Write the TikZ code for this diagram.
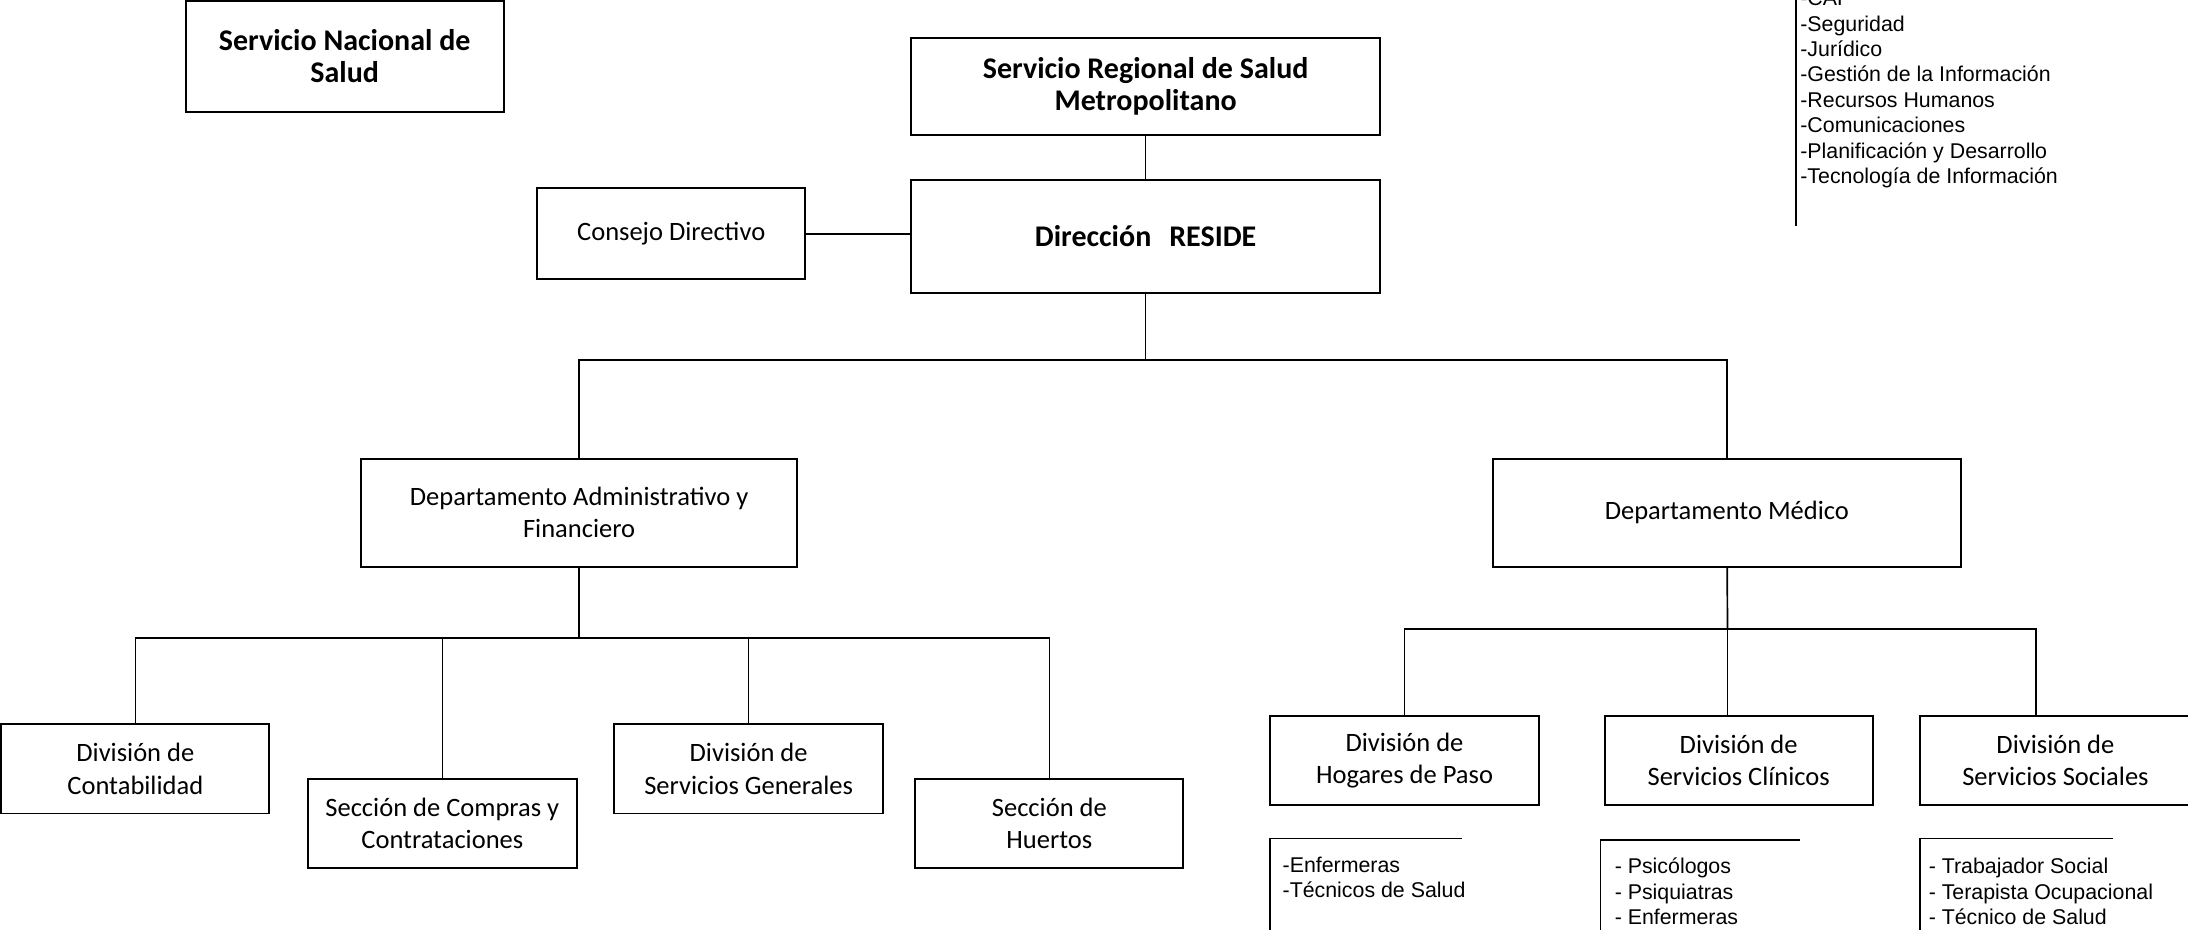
\documentclass[tikz,border=0pt]{standalone}
\usepackage{fontspec}
\setmainfont{Carlito}
\newfontfamily\listfont{Liberation Sans}
\tikzstyle{block} = [draw, fill=white, rectangle, line width=1.4pt, inner sep=0pt,
    align=center, font=\fontsize{19}{23}\selectfont,
    minimum height=64pt, minimum width=192pt]
\tikzstyle{title} = [block, font=\fontsize{21.5}{23}\selectfont\bfseries]
\tikzstyle{staff} = [align=left, inner sep=0pt, anchor=base west,
    font=\listfont\fontsize{15.3}{18.2}\selectfont]
\tikzstyle{link} = [line width=1.2pt]

\begin{document}
\begin{tikzpicture}[x=1pt, y=1pt]
    \useasboundingbox (0,0) rectangle (1568,666);
    % We start by placing the blocks of the upper levels
    \node [title, minimum width=228pt, minimum height=79pt] (sns) at (247,625.5) {Servicio Nacional de\\Salud};
    \node [title, minimum width=336pt, minimum height=70pt] (srsm) at (821,604) {Servicio Regional de Salud\\Metropolitano};
    \node [title, minimum width=336pt, minimum height=81pt, below of=srsm, node distance=107.5pt] (dir) {Direcci\'on\hspace{0.6em}RESIDE};
    \node [block, minimum height=65pt, left of=dir, node distance=340pt, yshift=2pt] (consejo) {Consejo Directivo};
    \node [block, minimum width=312pt, minimum height=77pt] (daf) at (415,298.5) {Departamento Administrativo y\\Financiero};
    \node [block, minimum width=335pt, minimum height=77pt, right of=daf, node distance=822.5pt] (dm) {Departamento M\'edico};

    % divisions and sections
    \node [block] (contab) at (97,115) {Divisi\'on de\\Contabilidad};
    \node [block, minimum width=193pt] (compras) at (317,76) {Secci\'on de Compras y\\Contrataciones};
    \node [block, minimum width=193pt] (servgen) at (536.5,115) {Divisi\'on de\\Servicios Generales};
    \node [block] (huertos) at (752,76) {Secci\'on de\\Huertos};
    \node [block, minimum width=193pt] (hogares) at (1006.5,121) {Divisi\'on de\\Hogares de Paso};
    \node [block] (clinicos) at (1246,121) {Divisi\'on de\\Servicios Cl\'inicos};
    \node [block, minimum width=194pt] (sociales) at (1473,121) {Divisi\'on de\\Servicios Sociales};

    % the staff lists (base is the last line)
    \node [staff] (unidades) at (1290,534.5) {-CAP\\-Seguridad\\-Jur\'idico\\-Gesti\'on de la Informaci\'on\\-Recursos Humanos\\-Comunicaciones\\-Planificaci\'on y Desarrollo\\-Tecnolog\'ia de Informaci\'on};
    \node [staff] (hogareslist) at (919,22.5) {-Enfermeras\\-T\'ecnicos de Salud};
    \node [staff] (clinicoslist) at (1157,3.5) {- Psic\'ologos\\- Psiquiatras\\- Enfermeras};
    \node [staff] (socialeslist) at (1382,3.5) {- Trabajador Social\\- Terapista Ocupacional\\- T\'ecnico de Salud};
    \draw [link] (1287,670) -- (1287,504);
    \draw [link] (910,-5) |- (1048,65);
    \draw [link] (1147,-5) |- (1290,64);
    \draw [link] (1376,-5) |- (1514,65);

    % Once the nodes are placed, connecting them is easy.
    \coordinate (top) at (821,408);
    \coordinate (adm) at (415,209);
    \coordinate (med) at (1238,215);
    \draw [link] (srsm) -- (dir);
    \draw [link] (consejo) -- (consejo -| dir.west);
    \draw [link] (dir) -- (top);
    \draw [link] (daf) |- (top) -| (dm);
    \draw [link] (daf) -- (adm);
    \draw [link] (contab) |- (adm) -| (huertos);
    \draw [link] (compras) -- (compras |- adm);
    \draw [link] (servgen) -- (servgen |- adm);
    \draw [link] (dm) -- (med);
    \draw [link] (hogares) |- (med);
    \draw [link] (med) -- (med |- clinicos.north);
    \draw [link] (med) -| ([xshift=-14pt]sociales.north);
\end{tikzpicture}
\end{document}
